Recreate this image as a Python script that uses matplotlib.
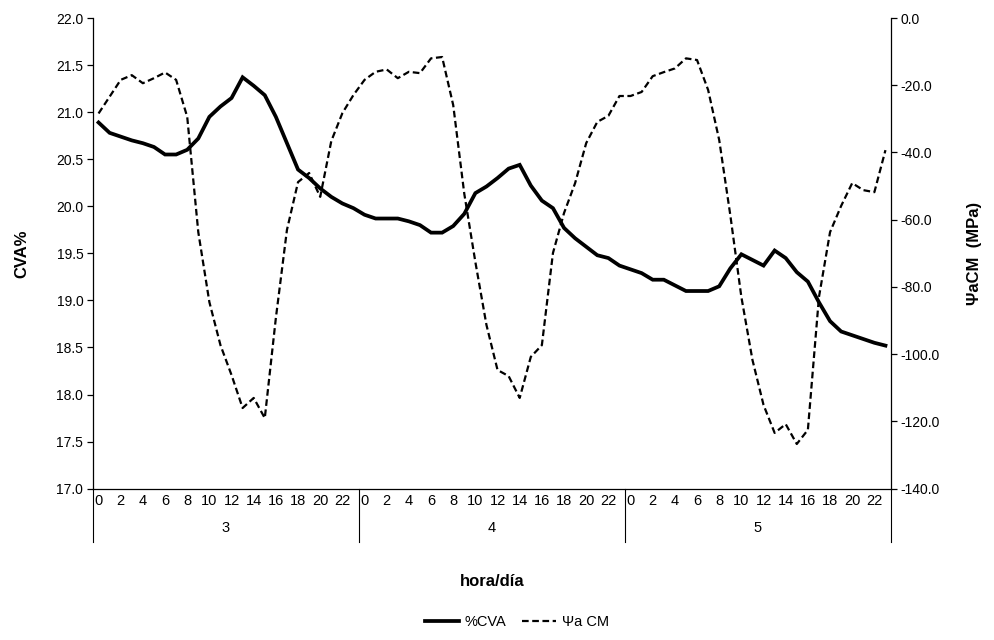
import matplotlib
matplotlib.use("Agg")
import matplotlib.pyplot as plt
import matplotlib.transforms as mtransforms
from matplotlib.ticker import FormatStrFormatter, MultipleLocator

plt.rcParams['font.family'] = ['Liberation Sans', 'DejaVu Sans']

# Hourly readings over three days
days = ["3", "4", "5"]
hours_per_day = 24
hour_labels = [str(h) for h in range(0, 24, 2)]

cva = [20.89, 20.78, 20.74, 20.70, 20.67, 20.63, 20.55, 20.55, 20.60, 20.72, 20.95, 21.06,
       21.15, 21.37, 21.28, 21.18, 20.95, 20.67, 20.39, 20.30, 20.19, 20.10, 20.03, 19.98,
       19.91, 19.87, 19.87, 19.87, 19.84, 19.80, 19.72, 19.72, 19.79, 19.92, 20.14, 20.21,
       20.30, 20.40, 20.44, 20.22, 20.06, 19.98, 19.77, 19.66, 19.57, 19.48, 19.45, 19.37,
       19.33, 19.29, 19.22, 19.22, 19.16, 19.10, 19.10, 19.10, 19.15, 19.34, 19.49, 19.43,
       19.37, 19.53, 19.45, 19.30, 19.20, 18.98, 18.78, 18.67, 18.63, 18.59, 18.55, 18.52]

psi = [-28.4, -23.4, -18.4, -17.0, -19.4, -17.9, -16.2, -18.4, -29.4, -63.7, -84.5, -97.3,
       -106.2, -116.0, -113.0, -119.0, -89.2, -63.0, -48.8, -46.1, -53.2, -36.6, -28.3, -22.9,
       -18.4, -16.0, -15.3, -17.9, -16.0, -16.4, -12.0, -11.6, -25.9, -52.3, -72.6, -91.3,
       -104.7, -106.5, -113.0, -100.8, -97.3, -69.9, -58.0, -49.1, -37.2, -30.9, -29.1, -23.2,
       -23.2, -22.0, -17.3, -16.1, -15.0, -12.0, -12.5, -21.4, -36.3, -58.6, -83.0, -101.7,
       -115.1, -123.4, -120.8, -126.7, -122.5, -83.0, -63.7, -55.9, -49.1, -51.2, -51.8, -39.3]

W, H = 994, 640
fig = plt.figure(figsize=(W / 100, H / 100), dpi=100)
left, right, top, bottom = 93, 891, 18, 488.7
ax = fig.add_axes([left / W, 1 - bottom / H, (right - left) / W, (bottom - top) / H])
ax2 = ax.twinx()

x = list(range(len(cva)))
l1, = ax.plot(x, cva, color='black', lw=2.7, solid_joinstyle='miter', label='%CVA')
l2, = ax2.plot(x, psi, color='black', lw=1.6, dashes=(3, 1.6), label='Ψa CM')

n = len(days) * hours_per_day
ax.set_xlim(-0.5, n - 0.5)
ax.set_ylim(17, 22)
ax2.set_ylim(-140, 0)
ax.yaxis.set_major_locator(MultipleLocator(0.5))
ax2.yaxis.set_major_locator(MultipleLocator(20))
ax.yaxis.set_major_formatter(FormatStrFormatter('%.1f'))
ax2.yaxis.set_major_formatter(FormatStrFormatter('%.1f'))

for a in (ax, ax2):
    for s in a.spines.values():
        s.set_linewidth(0.9)
        s.set_color('black')
    a.spines['top'].set_visible(False)
ax.spines['right'].set_visible(False)
ax2.spines['left'].set_visible(False)
ax2.spines['bottom'].set_visible(False)

ax.tick_params(axis='y', direction='out', length=4, width=0.9, labelsize=10, pad=3)
ax2.tick_params(axis='y', direction='out', length=4, width=0.9, labelsize=10, pad=3)

# Hour labels every two hours within each day
xt = []
xl = []
for d in range(len(days)):
    for k, lab in enumerate(hour_labels):
        xt.append(d * hours_per_day + 2 * k)
        xl.append(lab)
ax.set_xticks(xt)
ax.set_xticklabels(xl)
ax.tick_params(axis='x', length=0, labelsize=10.5, pad=4)

# Day separators and day labels below the hour labels
trans = mtransforms.blended_transform_factory(ax.transData, ax.transAxes)
sep_depth = 53 / (bottom - top)
for d in range(len(days) + 1):
    xs = d * hours_per_day - 0.5
    ax.plot([xs, xs], [0, -sep_depth], transform=trans, color='black', lw=0.8, clip_on=False)
day_y = (bottom - 528) / (bottom - top)
for d, lab in enumerate(days):
    ax.text(d * hours_per_day + (hours_per_day - 1) / 2, day_y, lab, transform=trans,
            ha='center', va='center', fontsize=10.5)

# Axis titles
fig.text((left + right) / 2 / W, 1 - 582 / H, 'hora/día', ha='center', va='center',
         fontsize=12, fontweight='bold')
mid_y = 1 - (top + bottom) / 2 / H
fig.text(22 / W, mid_y, 'CVA%', rotation=90, ha='center', va='center',
         fontsize=12, fontweight='bold')
fig.text(975 / W, mid_y, 'ΨaCM  (MPa)', rotation=90, ha='center', va='center',
         fontsize=12, fontweight='bold')

fig.legend(handles=[l1, l2], loc='center', bbox_to_anchor=(517 / W, 1 - 622 / H),
           ncol=2, frameon=False, fontsize=10.5, handlelength=2.3, columnspacing=1.1,
           handletextpad=0.4)

fig.savefig('out.png', dpi=100)
